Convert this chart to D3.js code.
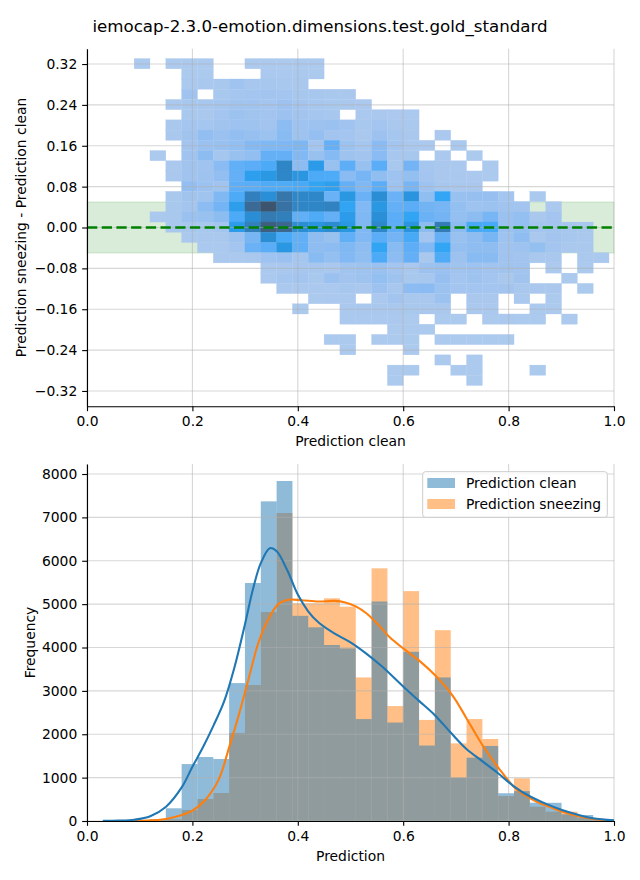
<!DOCTYPE html>
<html><head><meta charset="utf-8">
<script src="https://cdn.jsdelivr.net/npm/d3@7"></script>
<style>body{margin:0;background:#fff} text{font-family:"DejaVu Sans",sans-serif}</style>
</head><body><svg id="c" width="640" height="880"></svg>
<script>
// ---------------- DATA ----------------
const title = "iemocap-2.3.0-emotion.dimensions.test.gold_standard";
const binEdges = [0.0895,0.1195,0.1496,0.1796,0.2096,0.2397,0.2697,0.2997,0.3298,0.3598,0.3898,0.4199,0.4499,0.4799,0.5100,0.5400,0.5700,0.6001,0.6301,0.6601,0.6902,0.7202,0.7502,0.7803,0.8103,0.8403,0.8704,0.9004,0.9304,0.9605,0.9905];
// y bin edges of the 2D histogram, top to bottom
const yBinEdges = [0.3307,0.3107,0.2907,0.2707,0.2507,0.2307,0.2107,0.1907,0.1707,0.1507,0.1307,0.1107,0.0907,0.0707,0.0507,0.0307,0.0107,-0.0093,-0.0293,-0.0493,-0.0693,-0.0893,-0.1093,-0.1293,-0.1493,-0.1693,-0.1893,-0.2093,-0.2293,-0.2493,-0.2693,-0.2893,-0.3093];
// counts per (row = y bin from top, column = x bin)
const heatCounts = [
[2,0,3,4,3,0,0,5,6,5,4,3,0,0,0,0,0,0,0,0,0,0,0,0,0,0,0,0,0,0],
[0,0,0,5,4,0,0,0,8,9,7,5,0,0,0,0,0,0,0,0,0,0,0,0,0,0,0,0,0,0],
[0,0,0,10,14,18,60,25,22,20,15,0,0,0,0,0,0,0,0,0,0,0,0,0,0,0,0,0,0,0],
[0,0,0,60,0,20,35,40,50,40,30,25,20,15,0,0,0,0,0,0,0,0,0,0,0,0,0,0,0,0],
[0,0,8,25,30,35,55,60,45,75,40,30,20,15,8,0,0,0,0,0,0,0,0,0,0,0,0,0,0,0],
[0,0,0,20,15,45,80,55,50,75,50,35,30,0,10,15,10,8,0,0,0,0,0,0,0,0,0,0,0,0],
[0,0,12,40,35,55,70,65,50,145,70,75,85,60,20,45,15,10,0,0,0,0,0,0,0,0,0,0,0,0],
[0,0,15,55,120,85,115,100,80,160,65,105,50,45,15,75,35,15,0,8,0,0,0,0,0,0,0,0,0,0],
[0,0,0,50,85,95,115,175,190,195,200,40,280,80,35,150,45,15,10,0,8,0,0,0,0,0,0,0,0,0],
[0,5,0,60,140,35,95,120,280,280,180,90,170,65,50,150,30,30,0,8,0,6,0,0,0,0,0,0,0,0],
[0,0,10,55,60,150,290,310,340,700,145,500,90,300,95,310,20,230,35,15,8,0,6,0,0,0,0,0,0,0],
[0,0,12,60,65,115,280,460,530,690,545,340,335,150,220,125,70,110,45,15,15,8,6,0,0,0,0,0,0,0],
[0,0,0,120,80,60,300,310,330,330,350,410,460,280,190,310,65,220,70,30,15,12,0,0,0,0,0,0,0,0],
[0,0,20,55,55,190,340,760,610,860,690,690,260,540,260,620,260,560,125,400,90,100,100,40,0,10,0,0,0,0],
[0,0,20,45,145,230,470,980,1200,900,700,700,740,410,180,540,280,310,240,220,110,70,80,60,50,0,8,0,0,0],
[0,8,20,85,90,140,340,620,820,770,290,330,280,480,190,610,310,410,260,230,110,140,220,85,110,15,40,0,0,0],
[0,0,15,30,20,45,480,770,1100,1000,620,560,640,540,190,690,300,560,140,800,145,350,350,85,110,40,40,30,15,0],
[0,0,0,10,15,15,70,220,620,350,290,130,95,290,180,310,230,350,45,280,95,130,220,70,130,15,50,30,15,0],
[0,0,0,0,10,10,45,260,310,540,290,130,145,190,130,410,160,300,180,400,105,130,130,60,70,110,40,15,15,0],
[0,0,0,0,0,8,10,15,70,85,35,160,110,180,125,340,145,280,15,330,75,160,160,60,50,15,15,0,10,8],
[0,0,0,0,0,0,0,0,8,15,30,30,15,55,65,85,45,15,75,85,55,70,50,55,50,0,6,0,5,0],
[0,0,0,0,0,0,0,0,8,35,40,20,85,50,65,110,65,20,30,100,40,65,40,15,55,0,0,6,0,0],
[0,0,0,0,0,0,0,0,0,8,10,10,10,30,15,75,30,145,150,80,40,40,40,50,15,15,15,0,6,0],
[0,0,0,0,0,0,0,0,0,0,0,6,8,10,0,10,50,20,15,80,0,15,12,0,8,0,6,0,0,0],
[0,0,0,0,0,0,0,0,0,0,5,0,0,10,12,15,15,20,15,12,0,10,10,0,0,6,6,0,0,0],
[0,0,0,0,0,0,0,0,0,0,0,0,0,8,8,10,8,6,0,6,6,0,6,8,6,5,0,4,0,0],
[0,0,0,0,0,0,0,0,0,0,0,0,0,0,0,0,5,6,4,0,0,0,0,0,0,0,0,0,0,0],
[0,0,0,0,0,0,0,0,0,0,0,0,3,4,0,4,5,5,0,5,5,6,4,3,0,0,0,0,0,0],
[0,0,0,0,0,0,0,0,0,0,0,0,0,3,0,0,0,3,0,0,0,0,0,0,0,0,0,0,0,0],
[0,0,0,0,0,0,0,0,0,0,0,0,0,0,0,0,0,0,0,2,0,2,0,0,0,0,0,0,0,0],
[0,0,0,0,0,0,0,0,0,0,0,0,0,0,0,0,2,2,0,0,2,2,0,0,0,2,0,0,0,0],
[0,0,0,0,0,0,0,0,0,0,0,0,0,0,0,0,2,0,0,0,0,2,0,0,0,0,0,0,0,0]
];
const bandLimits = [-0.05, 0.05];
const topYTicks = [-0.32,-0.24,-0.16,-0.08,0,0.08,0.16,0.24,0.32];
const xTicks = [0,0.2,0.4,0.6,0.8,1.0];
const botYTicks = [0,1000,2000,3000,4000,5000,6000,7000,8000];

const seriesNames = ["Prediction clean","Prediction sneezing"];
const cleanCounts = [10,40,293,1313,1475,1429,3180,5487,7370,7839,4730,4465,4058,3980,2350,5060,2270,3900,1740,3310,1000,1460,1730,640,690,422,420,155,138,38];
const sneezeCounts = [0,10,40,253,507,645,2029,3135,4818,7101,5020,5020,5134,4941,3310,5825,2650,5300,2330,4400,1790,2350,1890,575,985,330,215,215,77,30];

const cleanKdeX = [0.03,0.06,0.09,0.12,0.15,0.18,0.20,0.22,0.24,0.26,0.28,0.30,0.315,0.33,0.347,0.36,0.38,0.40,0.42,0.44,0.47,0.50,0.53,0.56,0.60,0.63,0.66,0.69,0.72,0.75,0.78,0.81,0.84,0.87,0.90,0.93,0.96,1.0];
const cleanKdeY = [2,8,30,110,330,780,1250,1700,2200,2750,3550,4550,5350,5950,6290,6220,5780,5220,4830,4570,4320,4120,3860,3560,3100,2770,2440,2040,1660,1380,1100,800,570,400,260,150,65,15];
const sneezeKdeX = [0.06,0.09,0.12,0.15,0.18,0.20,0.224,0.25,0.27,0.287,0.306,0.325,0.343,0.363,0.382,0.407,0.439,0.47,0.49,0.51,0.53,0.55,0.575,0.60,0.632,0.663,0.695,0.72,0.752,0.784,0.815,0.847,0.885,0.923,0.961,1.0];
const sneezeKdeY = [1,3,15,46,138,240,480,960,1710,2400,3250,4100,4630,5000,5100,5090,5060,5075,5040,4950,4790,4560,4230,3980,3680,3330,2870,2370,1720,1175,730,480,290,140,46,10];

// ---------------- HUSL colormap (seaborn style) ----------------
const Mx=[[3.2406,-1.5372,-0.4986],[-0.9689,1.8758,0.0415],[0.0557,-0.2040,1.0570]];
const Minv=[[0.4124,0.3576,0.1805],[0.2126,0.7152,0.0722],[0.0193,0.1192,0.9505]];
const refY=1.0, refU=0.19784, refV=0.46834, labE=0.008856, labK=903.3;
function maxChroma(L,H){const hr=H*Math.PI/180,sH=Math.sin(hr),cH=Math.cos(hr);
 const s1=Math.pow(L+16,3)/1560896, s2=s1>labE?s1:L/labK; let res=Infinity;
 for(const r of Mx){const [m1,m2,m3]=r;const top=(0.99915*m1+1.05122*m2+1.14460*m3)*s2;
  const rb=0.86330*m3-0.17266*m2, lb=0.12949*m3-0.38848*m1; const bot=(rb*sH+lb*cH)*s2;
  for(const t of [0,1]){const C=L*(top-1.05122*t)/(bot+0.17266*sH*t); if(C>0&&C<res)res=C;}}
 return res;}
const fF=t=>t>labE?Math.cbrt(t):7.787*t+16/116;
const fInv=t=>Math.pow(t,3)>labE?Math.pow(t,3):(116*t-16)/labK;
const toLin=c=>c>0.04045?Math.pow((c+0.055)/1.055,2.4):c/12.92;
const fromLin=c=>c<=0.0031308?12.92*c:1.055*Math.pow(c,1/2.4)-0.055;
function rgbToHusl(r,g,b){const l=[toLin(r),toLin(g),toLin(b)];
 const [X,Y,Z]=Minv.map(m=>m[0]*l[0]+m[1]*l[1]+m[2]*l[2]);
 const d=X+15*Y+3*Z, vu=4*X/d, vv=9*Y/d; const L=116*fF(Y/refY)-16;
 const U=13*L*(vu-refU), V=13*L*(vv-refV); const C=Math.hypot(U,V); let Hh=Math.atan2(V,U)*180/Math.PI; if(Hh<0)Hh+=360;
 return [Hh, C/maxChroma(L,Hh)*100, L];}
function huslToRgb(Hh,S,L){const C=maxChroma(L,Hh)/100*S; const hr=Hh*Math.PI/180;
 const U=Math.cos(hr)*C, V=Math.sin(hr)*C; const vY=fInv((L+16)/116); const vu=U/(13*L)+refU, vv=V/(13*L)+refV;
 const Y=vY*refY, X=-(9*Y*vu)/((vu-4)*vv-vu*vv), Z=(9*Y-15*vv*Y-vv*X)/(3*vv);
 return Mx.map(m=>Math.max(0,Math.min(1,fromLin(m[0]*X+m[1]*Y+m[2]*Z))));}
const [hB,sB]=rgbToHusl(31/255,119/255,180/255);
const cmapColors=[];
for(let i=0;i<256;i++){const xx=-1+2*i/293; const rgb=huslToRgb(hB,sB*Math.cos(xx),35+45*i/255);
 cmapColors.push(d3.rgb(rgb[0]*255,rgb[1]*255,rgb[2]*255).formatHex());}
cmapColors.reverse();
const allPos=heatCounts.flat().filter(v=>v>0);
const vmin=d3.min(allPos), vmax=d3.max(allPos);
const cmap=v=>{const t=(v-vmin)/(vmax-vmin); return cmapColors[Math.max(0,Math.min(255,Math.floor(t*256)))];};

// ---------------- DRAW ----------------
const PT=100/72;
const svg=d3.select("#c");
const FS=10*PT;
const xL=87,xR=614;
const x=d3.scaleLinear().domain([0,1]).range([xL,xR]);
const yT=d3.scaleLinear().domain([-0.35,0.35]).range([406.3,48.7]);
const yB=d3.scaleLinear().domain([0,8231]).range([821,464]);
const gridC="#b0b0b0", gridO=0.5, gridW=0.8*PT;
const TL=3.5*PT;

svg.append("text").attr("x",320).attr("y",31.5).attr("text-anchor","middle").attr("font-size",12*PT).text(title);

// --- top panel
const gT=svg.append("g");
gT.append("rect").attr("x",xL).attr("width",xR-xL).attr("y",yT(bandLimits[1])).attr("height",yT(bandLimits[0])-yT(bandLimits[1]))
  .attr("fill","green").attr("fill-opacity",0.15).attr("stroke","green").attr("stroke-opacity",0.15);
const cells=[];
heatCounts.forEach((row,r)=>row.forEach((v,c)=>{if(v>0)cells.push({r,c,v});}));
gT.selectAll("rect.cell").data(cells).join("rect").attr("class","cell")
 .attr("x",d=>x(binEdges[d.c])).attr("width",d=>x(binEdges[d.c+1])-x(binEdges[d.c]))
 .attr("y",d=>yT(yBinEdges[d.r])).attr("height",d=>yT(yBinEdges[d.r+1])-yT(yBinEdges[d.r]))
 .attr("fill",d=>cmap(d.v)).attr("stroke",d=>cmap(d.v)).attr("stroke-width",0.3);
// grid
gT.selectAll("line.gx").data(xTicks).join("line").attr("x1",d=>x(d)).attr("x2",d=>x(d)).attr("y1",48.7).attr("y2",406.3)
 .attr("stroke",gridC).attr("stroke-opacity",gridO).attr("stroke-width",gridW);
gT.selectAll("line.gy").data(topYTicks).join("line").attr("y1",d=>yT(d)).attr("y2",d=>yT(d)).attr("x1",xL).attr("x2",xR)
 .attr("stroke",gridC).attr("stroke-opacity",gridO).attr("stroke-width",gridW);
gT.append("line").attr("x1",xL).attr("x2",xR).attr("y1",yT(0)).attr("y2",yT(0)).attr("stroke","green").attr("stroke-width",2.4).attr("stroke-dasharray","10.3,4.4");

function styleAxis(g){g.selectAll("text").attr("font-size",FS).attr("font-family","DejaVu Sans").attr("fill","#000");
 g.selectAll("line").attr("stroke","#000").attr("stroke-width",0.8*PT); g.select(".domain").attr("stroke","#000").attr("stroke-width",0.8*PT);}
svg.append("g").attr("transform","translate(0,406.3)").call(d3.axisBottom(x).tickValues(xTicks).tickFormat(d3.format(".1f")).tickSize(TL).tickPadding(TL).tickSizeOuter(0)).call(styleAxis);
svg.append("g").attr("transform",`translate(${xL},0)`).call(d3.axisLeft(yT).tickValues(topYTicks).tickFormat(d3.format(".2f")).tickSize(TL).tickPadding(TL).tickSizeOuter(0)).call(styleAxis);
svg.append("text").attr("x",350.5).attr("y",446).attr("text-anchor","middle").attr("font-size",FS).text("Prediction clean");
svg.append("text").attr("transform","translate(26,227.5) rotate(-90)").attr("text-anchor","middle").attr("font-size",FS).text("Prediction sneezing - Prediction clean");

// --- bottom panel
const gB=svg.append("g");
const bars=(vals,color)=>gB.append("g").selectAll("rect").data(vals.map((v,i)=>({v,i}))).join("rect")
 .attr("x",d=>x(binEdges[d.i])).attr("width",d=>x(binEdges[d.i+1])-x(binEdges[d.i]))
 .attr("y",d=>yB(d.v)).attr("height",d=>yB(0)-yB(d.v)).attr("fill",color).attr("fill-opacity",0.5);
bars(sneezeCounts,"#ff7f0e");
bars(cleanCounts,"#1f77b4");
gB.selectAll("line.gx").data(xTicks).join("line").attr("x1",d=>x(d)).attr("x2",d=>x(d)).attr("y1",464).attr("y2",821)
 .attr("stroke",gridC).attr("stroke-opacity",gridO).attr("stroke-width",gridW);
gB.selectAll("line.gy").data(botYTicks).join("line").attr("y1",d=>yB(d)).attr("y2",d=>yB(d)).attr("x1",xL).attr("x2",xR)
 .attr("stroke",gridC).attr("stroke-opacity",gridO).attr("stroke-width",gridW);
const kline=(xs,ys,color)=>gB.append("path").datum(xs.map((v,i)=>[v,ys[i]]))
 .attr("d",d3.line().x(d=>x(d[0])).y(d=>yB(d[1])).curve(d3.curveCatmullRom.alpha(0.5)))
 .attr("fill","none").attr("stroke",color).attr("stroke-width",1.5*PT).attr("stroke-linejoin","round");
kline(sneezeKdeX,sneezeKdeY,"#ff7f0e");
kline(cleanKdeX,cleanKdeY,"#1f77b4");
svg.append("g").attr("transform","translate(0,821)").call(d3.axisBottom(x).tickValues(xTicks).tickFormat(d3.format(".1f")).tickSize(TL).tickPadding(TL).tickSizeOuter(0)).call(styleAxis);
svg.append("g").attr("transform",`translate(${xL},0)`).call(d3.axisLeft(yB).tickValues(botYTicks).tickFormat(d3.format("d")).tickSize(TL).tickPadding(TL).tickSizeOuter(0)).call(styleAxis);
svg.append("text").attr("x",350.5).attr("y",861).attr("text-anchor","middle").attr("font-size",FS).text("Prediction");
svg.append("text").attr("transform","translate(35,642.5) rotate(-90)").attr("text-anchor","middle").attr("font-size",FS).text("Frequency");

// legend
const lg=svg.append("g");
lg.append("rect").attr("x",422.7).attr("y",471.7).attr("width",184.6).attr("height",45.6).attr("rx",2.7)
 .attr("fill","#fff").attr("fill-opacity",0.8).attr("stroke","#cccccc").attr("stroke-width",1);
[["#1f77b4",0],["#ff7f0e",1]].forEach(([c,i])=>{
 lg.append("rect").attr("x",427.3).attr("y",478+i*21).attr("width",27.7).attr("height",10).attr("fill",c).attr("fill-opacity",0.5);
 lg.append("text").attr("x",466).attr("y",488.3+i*21).attr("font-size",FS).text(seriesNames[i]);
});
</script></body></html>
